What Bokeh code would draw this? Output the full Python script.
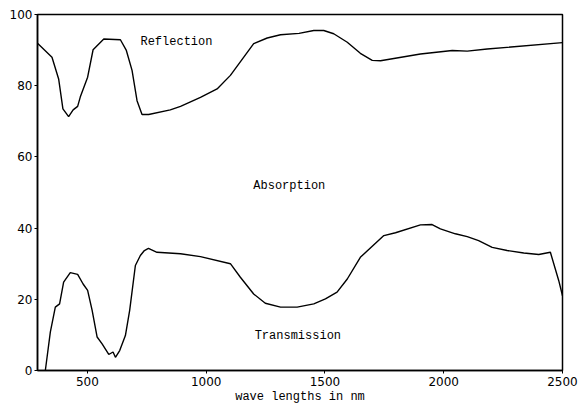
from bokeh.plotting import figure
from bokeh.models import Label, Range1d, FixedTicker
from bokeh.embed import file_html
from bokeh.resources import INLINE

# Reflection curve (wavelength nm, percent)
refl_x = [290, 351, 379, 397, 421, 440, 459, 470, 501, 524, 569, 639, 664, 688, 709,
          730, 758, 849, 892, 976, 1046, 1102, 1200, 1257, 1313, 1391, 1453, 1495,
          1537, 1594, 1649, 1699, 1734, 1902, 2036, 2099, 2183, 2500]
refl_y = [91.9, 88.0, 81.9, 73.5, 71.3, 73.2, 74.2, 76.8, 82.4, 90.1, 93.1, 92.9, 89.9,
          84.3, 75.8, 71.9, 71.9, 73.2, 74.2, 76.7, 79.1, 82.9, 91.8, 93.4, 94.3, 94.7,
          95.5, 95.5, 94.6, 92.2, 89.1, 87.1, 87.0, 88.9, 89.9, 89.7, 90.3, 92.1]

# Transmission curve (wavelength nm, percent)
trans_x = [323, 344, 365, 383, 400, 428, 459, 482, 501, 520, 541, 562, 590, 608, 618,
           636, 660, 678, 702, 723, 740, 757, 793, 892, 976, 1102, 1144, 1200, 1249,
           1313, 1383, 1453, 1502, 1551, 1594, 1649, 1748, 1797, 1902, 1951, 1986,
           2049, 2099, 2147, 2204, 2267, 2337, 2400, 2449, 2484, 2500]
trans_y = [0, 10.8, 17.8, 18.7, 24.8, 27.5, 27.0, 24.3, 22.5, 16.9, 9.4, 7.5, 4.5, 5.2,
           3.7, 5.6, 9.8, 16.9, 29.5, 32.3, 33.7, 34.3, 33.2, 32.8, 32.0, 30.0, 26.2,
           21.5, 18.9, 17.8, 17.8, 18.7, 20.1, 22.0, 25.7, 31.8, 37.9, 38.7, 40.9,
           41.0, 39.8, 38.4, 37.6, 36.5, 34.6, 33.7, 33.0, 32.6, 33.2, 25.3, 21.0]

x_ticks = [500, 1000, 1500, 2000, 2500]
y_ticks = [0, 20, 40, 60, 80, 100]
region_labels = ["Reflection", "Absorption", "Transmission"]
x_title = "wave lengths in nm"

p = figure(width=580, height=407, output_backend="svg", toolbar_location=None,
           x_range=Range1d(290, 2500), y_range=Range1d(0, 100),
           min_border_left=37, min_border_right=18, min_border_top=14,
           min_border_bottom=37)
p.background_fill_color = "white"
p.border_fill_color = "white"
p.outline_line_color = "black"
p.outline_line_width = 1.5
p.xgrid.visible = False
p.ygrid.visible = False

for ax, ticks in ((p.xaxis, x_ticks), (p.yaxis, y_ticks)):
    ax.ticker = FixedTicker(ticks=ticks)
    ax.axis_line_color = "black"
    ax.axis_line_width = 1.5
    ax.major_tick_line_color = "black"
    ax.major_tick_out = 3
    ax.major_tick_in = 0
    ax.minor_tick_line_color = None
    ax.major_label_text_font = "DejaVu Sans"
    ax.major_label_text_font_size = "12px"
    ax.major_label_text_color = "black"
    ax.major_label_standoff = 3
p.yaxis.major_label_standoff = 2

p.xaxis.axis_label = x_title
p.xaxis.axis_label_text_font = "Liberation Mono"
p.xaxis.axis_label_text_font_size = "12px"
p.xaxis.axis_label_text_font_style = "normal"
p.xaxis.axis_label_text_color = "black"
p.xaxis.axis_label_standoff = 1

p.line(refl_x, refl_y, line_color="black", line_width=1.4)
p.line(trans_x, trans_y, line_color="black", line_width=1.4)

label_pos = [(875, 92.4), (1350, 51.7), (1386, 9.6)]
for txt, (lx, ly) in zip(region_labels, label_pos):
    p.add_layout(Label(x=lx, y=ly, text=txt, text_font="Liberation Mono",
                       text_font_size="12px", text_align="center",
                       text_baseline="middle", text_color="black"))

open("out.html", "w").write(file_html(p, INLINE))
